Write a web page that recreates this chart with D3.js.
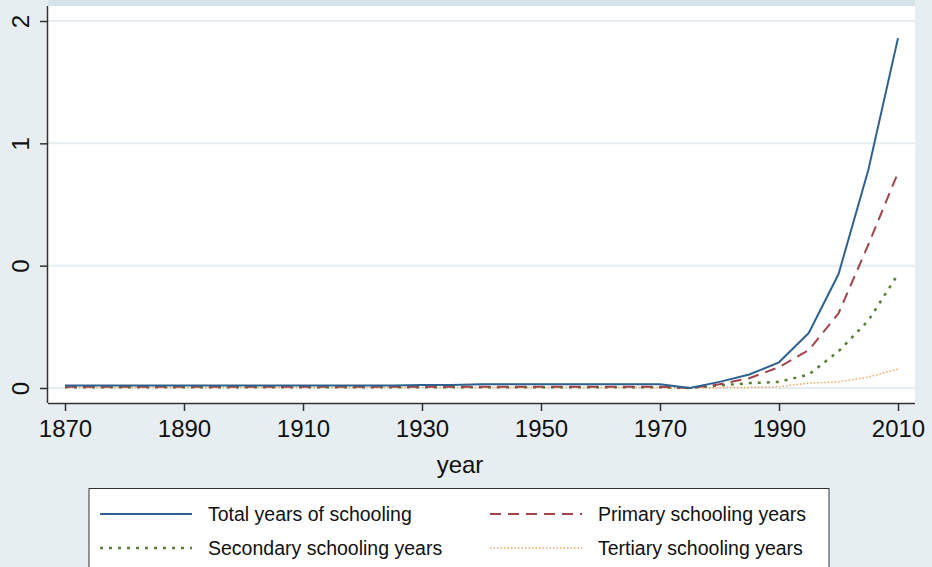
<!DOCTYPE html>
<html><head><meta charset="utf-8">
<script src="https://cdn.jsdelivr.net/npm/d3@7"></script>
<style>
html,body{margin:0;padding:0;background:#e7eef1;}
text{font-family:"Liberation Sans",Arial,Helvetica,sans-serif;fill:#111;}
</style></head>
<body>
<svg id="c" width="932" height="567"></svg>
<script>
const years = d3.range(1870, 2011, 5);
const total =     [0.02,0.02,0.02,0.02,0.02,0.02,0.02,0.02,0.02,0.02,0.02,0.02,0.025,0.025,0.03,0.03,0.03,0.03,0.03,0.03,0.03,0,0.05,0.11,0.21,0.45,0.93,1.78,2.86];
const primary =   [0.01,0.01,0.01,0.01,0.01,0.01,0.01,0.01,0.01,0.01,0.01,0.01,0.01,0.01,0.01,0.01,0.01,0.01,0.01,0.01,0.01,0,0.03,0.08,0.17,0.31,0.61,1.17,1.76];
const secondary = [0.006,0.006,0.006,0.006,0.006,0.006,0.006,0.006,0.006,0.006,0.006,0.006,0.006,0.006,0.006,0.006,0.006,0.006,0.006,0.006,0.006,0,0.02,0.04,0.05,0.11,0.3,0.55,0.93];
const tertiary =  [0.004,0.004,0.004,0.004,0.004,0.004,0.004,0.004,0.004,0.004,0.004,0.004,0.004,0.004,0.004,0.004,0.004,0.004,0.004,0.004,0.004,0,0.003,0.005,0.01,0.04,0.05,0.09,0.155];
const xTicks = [1870,1890,1910,1930,1950,1970,1990,2010];
const yTickVals = [0,1,2,3];
const yTickLabels = ["0","0","1","2"];
const seriesNames = ["Total years of schooling","Primary schooling years","Secondary schooling years","Tertiary schooling years"];

const svg = d3.select("#c");
const L=48, R=915, T=6, B=403;
const x = d3.scaleLinear().domain([1870,2010]).range([65,898]);
const y = d3.scaleLinear().domain([0,3]).range([388,21]);

svg.append("rect").attr("x",L).attr("y",0).attr("width",R-L).attr("height",T).attr("fill","#d6e2e9");
svg.append("rect").attr("x",L).attr("y",T).attr("width",R-L).attr("height",B-T).attr("fill","#fff");
svg.append("g").selectAll("line").data(yTickVals).join("line")
  .attr("x1",L).attr("x2",R).attr("y1",d=>y(d)).attr("y2",d=>y(d))
  .attr("stroke","#e6edf1").attr("stroke-width",2);

const xAxis = d3.axisBottom(x).tickValues(xTicks).tickFormat(d3.format("d")).tickSize(8);
const gx = svg.append("g").attr("transform",`translate(0,${B})`).call(xAxis);
gx.select(".domain").attr("d",`M${L},0.5H${R}`).attr("stroke","#333").attr("stroke-width",1.5);
gx.selectAll(".tick line").attr("stroke","#333").attr("stroke-width",1.5);
gx.selectAll(".tick text").attr("font-size",24).attr("fill","#111").attr("y",34).attr("dy",null);

const yAxis = d3.axisLeft(y).tickValues(yTickVals).tickFormat((d,i)=>yTickLabels[i]).tickSize(8).tickPadding(0);
const gy = svg.append("g").attr("transform",`translate(${L},0)`).call(yAxis);
gy.select(".domain").attr("d",`M-0.5,${T}V${B}`).attr("stroke","#333").attr("stroke-width",1.5);
gy.selectAll(".tick line").attr("stroke","#333").attr("stroke-width",1.5);
gy.selectAll(".tick text").attr("font-size",24).attr("fill","#111")
  .attr("x",0).attr("dy",null).attr("text-anchor","middle")
  .attr("transform","translate(-28,0) rotate(-90)").attr("dominant-baseline","central");

svg.append("text").attr("x",460).attr("y",473).attr("text-anchor","middle").attr("font-size",24).text("year");

const styles = [
  {data: total, color:"#2d6290", dash:null, w:2},
  {data: primary, color:"#a2434c", dash:"11,7", w:2},
  {data: secondary, color:"#5c7d35", dash:"3,6", w:2.5},
  {data: tertiary, color:"#f2a458", dash:"1.5,2", w:1.5}
];
const line = d3.line().x((d,i)=>x(years[i])).y(d=>y(d));
styles.slice().reverse().forEach(s=>{
  svg.append("path").datum(s.data).attr("d",line).attr("fill","none")
    .attr("stroke",s.color).attr("stroke-width",s.w).attr("stroke-dasharray",s.dash)
    .attr("stroke-linejoin","round");
});

const lg = svg.append("g");
lg.append("rect").attr("x",89).attr("y",488.5).attr("width",740).attr("height",90)
  .attr("fill","#fff").attr("stroke","#333").attr("stroke-width",1);
const pos = [[100,514],[490,514],[100,548],[490,548]];
styles.forEach((s,i)=>{
  const [px,py]=pos[i];
  lg.append("line").attr("x1",px).attr("x2",px+92).attr("y1",py).attr("y2",py)
    .attr("stroke",s.color).attr("stroke-width",s.w).attr("stroke-dasharray",s.dash);
  lg.append("text").attr("x",px+108).attr("y",py+7).attr("font-size",19.5).text(seriesNames[i]);
});
</script>
</body></html>
